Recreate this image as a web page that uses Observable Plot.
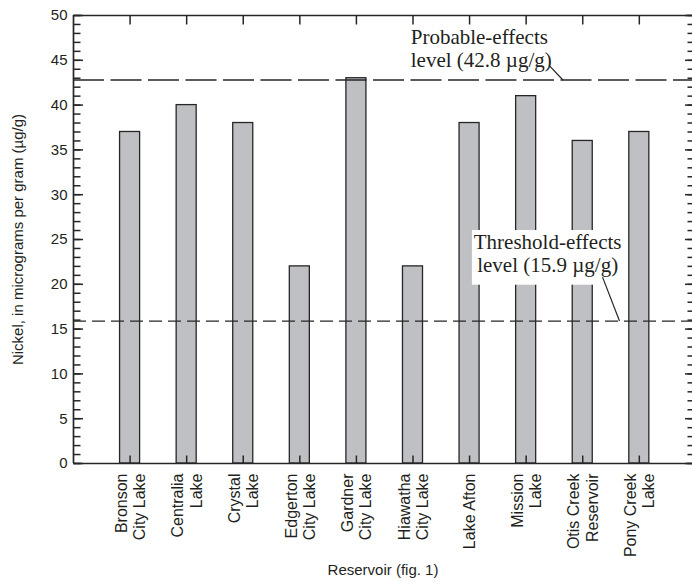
<!DOCTYPE html>
<html>
<head>
<meta charset="utf-8">
<script src="https://cdn.jsdelivr.net/npm/d3@7"></script>
<script src="https://cdn.jsdelivr.net/npm/@observablehq/plot@0.6"></script>
<style>
html, body { margin: 0; padding: 0; background: #fff; overflow: hidden; }
</style>
</head>
<body>
<div id="chart"></div>
<script>
// ---- data ----
const reservoirs = [
  "Bronson\nCity Lake", "Centralia\nLake", "Crystal\nLake", "Edgerton\nCity Lake",
  "Gardner\nCity Lake", "Hiawatha\nCity Lake", "Lake Afton", "Mission\nLake",
  "Otis Creek\nReservoir", "Pony Creek\nLake"
];
const nickel = [37, 40, 38, 22, 43, 22, 38, 41, 36, 37];
const yMajorTicks = [0, 5, 10, 15, 20, 25, 30, 35, 40, 45, 50];
const yMinorTicks = d3.range(0, 51, 1);
const probableLevel = 42.8;
const thresholdLevel = 15.9;
const probableLabel = "Probable-effects\nlevel (42.8 µg/g)";
const thresholdLabel = "Threshold-effects\nlevel (15.9 µg/g)";
const yTitle = "Nickel, in micrograms per gram (µg/g)";
const xTitle = "Reservoir (fig. 1)";

// annotation anchors, in data units (reservoir index, µg/g)
const probableNote = {x: 4.96, y: 48.6, lx: 7.41, ly: 44.4, ex: 7.65};
const thresholdNote = {x: 7.38, y: 25.7, lx: 8.35, ly: 20.8, ex: 8.65};
const thresholdBox = {x1: 6.05, x2: 8.70, y1: 19.9, y2: 26.0};

// ---- layout ----
const W = 692, H = 582, mL = 73, mR = 0, mT = 15, mB = 119;

// ---- derived ----
const data = reservoirs.map((name, i) => ({i, name, value: nickel[i]}));
const idx = data.map(d => d.i);
const xDomain = [-1, 9.94];
const yDomain = [0, 50];
const half = 0.177;
const ink = "#262626";
const textInk = "#231f20";
const sans = "'Liberation Sans', Arial, Helvetica, sans-serif";
const serif = "'Liberation Serif', 'Times New Roman', serif";

// pixel-length inward ticks converted to data units through the scales' extents
const pxX = (W - mL - mR) / (xDomain[1] - xDomain[0]);
const pxY = (H - mT - mB) / (yDomain[1] - yDomain[0]);
const tickLinks = [
  ...yMinorTicks.map(v => ({x1: xDomain[0], x2: xDomain[0] + 7 / pxX, y1: v, y2: v})),
  ...yMajorTicks.map(v => ({x1: xDomain[0], x2: xDomain[0] + 9.5 / pxX, y1: v, y2: v})),
  ...yMinorTicks.map(v => ({x1: xDomain[1], x2: xDomain[1] - 5 / pxX, y1: v, y2: v})),
  ...yMajorTicks.map(v => ({x1: xDomain[1], x2: xDomain[1] - 7.5 / pxX, y1: v, y2: v})),
  ...idx.map(i => ({x1: i, x2: i, y1: yDomain[0], y2: yDomain[0] + 8 / pxY})),
  ...idx.map(i => ({x1: i, x2: i, y1: yDomain[1], y2: yDomain[1] - 9 / pxY}))
];

const chart = Plot.plot({
  width: W,
  height: H,
  marginLeft: mL,
  marginRight: mR,
  marginTop: mT,
  marginBottom: mB,
  style: {fontFamily: sans, background: "white", color: textInk},
  x: {type: "linear", domain: xDomain, axis: null},
  y: {domain: yDomain, axis: null},
  marks: [
    Plot.rectY(data, {x1: d => d.i - half, x2: d => d.i + half, y1: 0, y2: "value",
      fill: "#bfc0c4", stroke: ink, strokeWidth: 1.3}),
    Plot.ruleY([probableLevel], {stroke: ink, strokeWidth: 1.3, strokeDasharray: "31,6.5"}),
    Plot.ruleY([thresholdLevel], {stroke: ink, strokeWidth: 1.3, strokeDasharray: "13,6"}),
    // frame lines
    Plot.ruleY([yDomain[0]], {stroke: ink, strokeWidth: 1.7}),
    Plot.ruleY([yDomain[1]], {stroke: ink, strokeWidth: 1.7}),
    Plot.ruleX([xDomain[0]], {stroke: ink, strokeWidth: 1.7}),
    // inward ticks
    Plot.link(tickLinks, {x1: "x1", x2: "x2", y1: "y1", y2: "y2", stroke: ink, strokeWidth: 1.5}),
    // tick labels
    Plot.text(yMajorTicks, {y: d => d, frameAnchor: "left", text: d => String(d), textAnchor: "end",
      dx: -6, fontSize: 15, fill: textInk}),
    Plot.text(data, {x: "i", frameAnchor: "bottom", text: "name", rotate: -90,
      textAnchor: "end", lineAnchor: "middle", dy: 10, fontSize: 16, lineHeight: 1.15, fill: textInk}),
    // titles
    Plot.text([yTitle], {frameAnchor: "left", rotate: -90, dx: -55, textAnchor: "middle",
      lineAnchor: "middle", fontSize: 15, fill: textInk}),
    Plot.text([xTitle], {frameAnchor: "bottom", dy: 107, textAnchor: "middle",
      lineAnchor: "middle", fontSize: 15, fill: textInk}),
    // annotations
    Plot.rect([thresholdBox], {x1: "x1", x2: "x2", y1: "y1", y2: "y2", fill: "white"}),
    Plot.text([{...thresholdNote, label: thresholdLabel}], {x: "x", y: "y", text: "label",
      textAnchor: "middle", lineAnchor: "top", fontFamily: serif, fontSize: 21, lineHeight: 1.08,
      fill: textInk}),
    Plot.text([{...probableNote, label: probableLabel}], {x: "x", y: "y", text: "label",
      textAnchor: "start", lineAnchor: "top", fontFamily: serif, fontSize: 21, lineHeight: 1.08,
      fill: textInk}),
    Plot.link([{...probableNote, level: probableLevel}, {...thresholdNote, level: thresholdLevel}],
      {x1: "lx", y1: "ly", x2: "ex", y2: "level", stroke: ink, strokeWidth: 1.2})
  ]
});

document.getElementById("chart").appendChild(chart);
</script>
</body>
</html>
